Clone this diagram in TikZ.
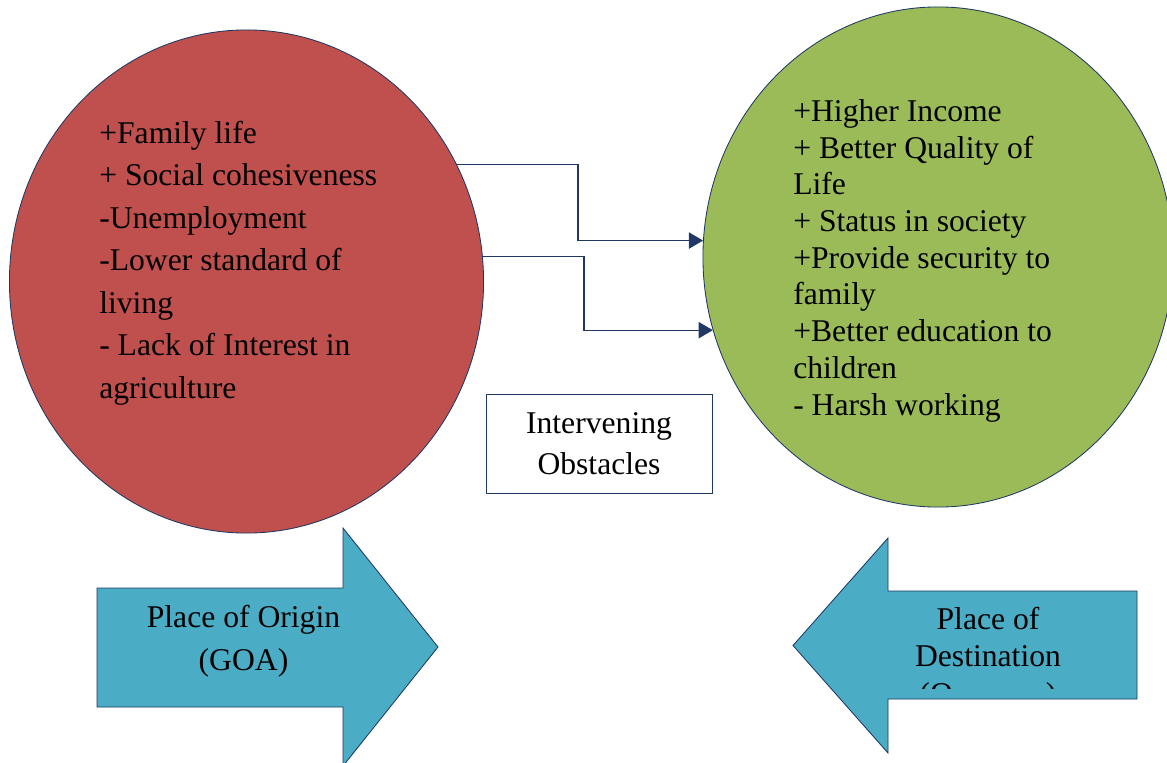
\documentclass[tikz,border=0pt]{standalone}
\usepackage{fontspec}
\setmainfont{Liberation Serif}
\usetikzlibrary{shapes.geometric,arrows.meta}
\definecolor{redfill}{HTML}{C0504D}
\definecolor{greenfill}{HTML}{9BBB59}
\definecolor{bluefill}{HTML}{4BACC6}
\definecolor{navy}{HTML}{1F3864}
\begin{document}
\begin{tikzpicture}[x=0.025cm,y=-0.025cm,
    blob/.style={ellipse, draw=navy, line width=.6pt, inner sep=0pt},
    txt/.style={inner sep=0pt, font=\fontsize{22.5}{30.2}\selectfont},
    flow/.style={draw=navy, line width=.9pt, -{Triangle[length=10pt,width=11.5pt]}},
    block/.style={draw=navy, line width=.6pt, fill=bluefill}]
  \useasboundingbox (0,0) rectangle (1167,763);
  % places
  \node[blob, fill=redfill, minimum width=11.85cm, minimum height=12.575cm] (origin) at (246.5,281.5) {};
  \node[blob, fill=greenfill, minimum width=11.75cm, minimum height=12.5cm] (dest) at (938,257) {};
  % push and pull factors (base = last line)
  \node[txt, anchor=base west, align=left] (push) at (99,398) {+Family life\\+ Social cohesiveness\\-Unemployment\\-Lower standard of\\living\\- Lack of Interest in\\agriculture};
  \node[txt, anchor=base west, align=left, font=\fontsize{22.5}{26.1}\selectfont] (pull) at (793,415) {+Higher Income\\+ Better Quality of\\Life\\+ Status in society\\+Provide security to\\family\\+Better education to\\children\\- Harsh working};
  % connectors
  \coordinate (bendA) at (578,200);
  \coordinate (bendB) at (584,290);
  \draw[flow] (origin.29.6) -| (bendA) |- (dest.176.1);
  \draw[flow] (origin.6.2) -| (bendB) |- (dest.198.7);
  % obstacles
  \node[draw=navy, line width=.6pt, minimum width=5.65cm, minimum height=2.475cm, inner sep=0pt, align=center, txt, font=\fontsize{22.5}{29}\selectfont] (obst) at (599,443.5) {Intervening\\Obstacles};
  % block arrows
  \draw[block] (97,588) -- (343,588) -- (343,528) -- (438,647) -- (343,766) -- (343,707) -- (97,707) -- cycle;
  \node[txt, align=center, anchor=base] (goa) at (243.5,670) {Place of Origin\\(GOA)};
  \draw[block] (1137,591) -- (888,591) -- (888,538) -- (793,645.5) -- (888,753) -- (888,699) -- (1137,699) -- cycle;
  \begin{scope}
    \clip (888,591) rectangle (1137,688);
    \node[txt, align=center, anchor=base, font=\fontsize{22.5}{26.5}\selectfont] (abroad) at (988,704) {Place of\\Destination\\(Overseas)};
  \end{scope}
\end{tikzpicture}
\end{document}
